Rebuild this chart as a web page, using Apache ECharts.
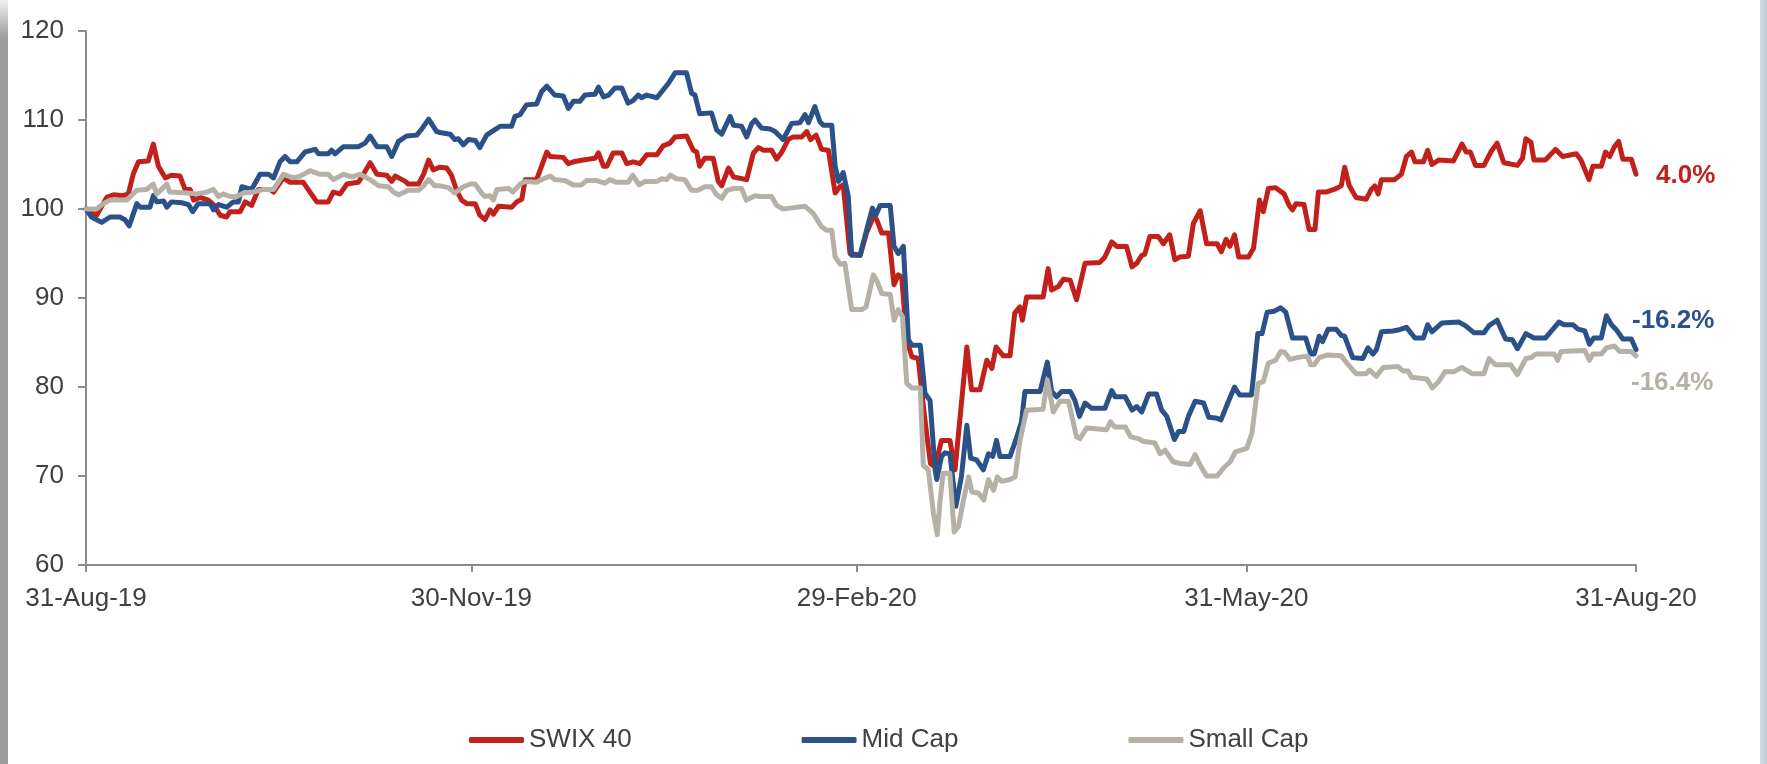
<!DOCTYPE html>
<html>
<head>
<meta charset="utf-8">
<title>SWIX 40 vs Mid Cap vs Small Cap</title>
<script src="https://cdn.jsdelivr.net/npm/echarts@6/dist/echarts.min.js"></script>
<style>
  html, body { margin: 0; padding: 0; background: #fff; }
  #chart { width: 1767px; height: 764px; }
</style>
</head>
<body>
<div id="chart"></div>
<script>
// x positions are days after 31-Aug-19, values are rebased to 100
const swixDays = [0,2.5,4.9,6.5,8.8,10,11.2,12.4,14.7,15.9,17.1,18.7,20.2,22.2,23.4,24.6,25.4,26.9,28.9,30.1,31.7,33.2,34,36.4,37.6,39.1,40.7,43.5,44.3,46.6,48.2,51.3,52.9,54.5,57.2,58.4,60,61.6,64.3,65.5,67.1,68.7,71,72.2,73,75.4,76.1,78.5,79.7,80.9,82,
  83.6,85.2,86.3,87.5,88.7,89.9,91.9,93,94.2,95.4,96.2,97.4,100.5,101.7,102.9,103.7,106.4,108.8,109.6,112.7,113.9,115.1,117.4,120.2,121,122.2,123,124.5,126.5,127.7,129.2,130.8,132.4,134.8,136.3,137.9,139.1,141.8,143.4,144.2,144.9,146.1,148.1,149.3,150.1,151.7,152.9,156,157.6,158.8,160,161.9,163.1,164.3,165.8,167,169,170.2,171.1,172.4,173.7,175.3,176.9,
  178,178.8,180.4,182.8,184.3,185.9,186.7,187.9,189.5,190.8,191.8,192.6,193.8,195,196.5,198.1,199.4,200.5,202,204,205.2,208,209.1,211.1,212.7,213.9,214.9,216.6,218.2,219.3,220.5,221.1,222.1,226,227.2,228,229.6,230.8,232.4,233.9,235.9,239.4,240.6,242.2,243.4,245.7,247,248.1,249.3,250,251.2,253.2,254.4,255.9,257.1,258.3,260.3,261.5,263.1,264.6,267.1,268.1,269.2,270.1,271.2,272.2,274.5,275.7,277.1,278,279.2,
  280.9,282.9,284.1,284.9,285.7,287.6,288.8,290.2,291,292.8,295.2,296.4,297.2,298.3,299.9,302.3,303.5,304.3,305.1,305.9,309,310.6,311.8,313,313.8,315.8,316.8,317.8,319.4,322.9,324.9,325.9,326.9,328.1,330.1,331.7,333.2,334.8,338,339.2,340,341.2,341.9,344.6,347,348.7,351.9,353,354.9,355.8,357.8,358.8,359.8,360.9,361.9,362.9,364.9,366];
const swixValues = [100,99.3,101.3,101.6,101.5,101.7,104,105.3,105.4,107.3,104.8,103.5,103.8,103.7,102.2,102.2,101,101.3,101,100.5,99.3,99.1,99.7,99.7,100.8,100.4,102.2,102.2,101.9,103.5,103,103,101.9,100.8,100.8,101.9,101.7,102.8,103,103.9,105.2,103.9,103.8,103.1,103.7,103.1,102.8,102.8,103.9,105.5,104.4,
  104.7,104.6,103.8,102.1,101,100.6,100.6,99.3,98.8,99.9,99.4,100.3,100.2,100.8,101.1,103.3,103.3,106.4,105.9,105.8,105.1,105.3,105.5,105.7,106.3,104.8,104.8,106.3,106.3,105.1,105.3,105.1,106.1,106.1,107.1,107.4,108.1,108.2,106.6,106.4,104.8,105.7,105.7,103.1,102.6,104.6,103.6,103.3,106.3,106.9,106.6,106.6,105.6,106.4,107.8,108.1,108.1,108.7,107.8,108.3,106.7,106.6,101.8,
  102.5,102.7,95,94.8,97.3,99.1,98.8,97.3,97.3,91.5,92.6,92.4,85.3,83.4,83.2,76.3,71.4,71,74,74,70.7,84.5,79.7,79.7,83,82.1,84.5,83.5,83.5,88.3,89,87.5,90.1,90.1,93.3,90.9,91.3,92.1,92,89.8,93.9,94,94.6,96.3,95.8,95.8,93.5,93.9,94.8,94.9,96.9,96.9,96.1,97.1,94.3,94.6,94.7,98.4,99.8,96.1,96.1,95.2,96.6,95.8,97.1,94.6,94.6,95.6,101,99.7,102.3,
  102.4,101.7,100.4,99.9,100.6,100.5,97.7,97.7,101.9,101.9,102.3,102.6,104.7,102.6,101.3,101.1,102.2,102.6,101.7,103.3,103.3,103.9,105.9,106.4,105.3,105.3,106.6,105,105.5,105.4,107.3,106.4,106.4,104.9,104.9,106.4,107.4,105.2,104.9,105.7,107.9,107.5,105.5,105.5,106.7,105.9,106.2,105.5,103.3,104.8,104.8,106.4,105.9,107,107.6,105.6,105.6,103.9];

const midDays = [0,1.3,3.7,5.7,8,9.2,10.2,12,12.8,15.1,15.9,16.7,18.3,19.1,20.2,22.6,24.2,25.2,26.5,29.3,30.1,31.3,33.2,34.8,36,36.8,39.1,41.1,43.1,44.3,45.8,47,48.2,49.8,51.7,54.1,54.9,57.2,58,58.8,60.8,64.3,65.9,67.1,68.7,71,72.2,73.8,75.7,78.1,79.3,80.9,82.8,
  83.6,86,87.1,87.9,89.1,90.3,91.9,93,94.6,96.2,97.8,100.5,101.3,102.5,104,106.4,107.6,108.8,110.7,112.7,113.9,115.1,116.6,117.8,120.2,121,122.2,123.4,124.9,126.5,128,129.2,130.4,131.2,132.4,134.8,137.5,139.1,141.8,143,143.8,144.9,147.7,148.9,150.1,152.1,152.9,154.8,156,157.2,158,159.5,161.5,162.7,164.6,166.6,168.6,169.8,170.6,172.1,173.3,174.1,176.1,176.9,177.7,
  178.8,180,180.8,182.8,184.3,185.7,186.5,187.5,189.9,190.8,191.8,193,194.2,195,197,198.1,199.3,200.5,200.9,202,202.8,204,205.4,206.7,208,208.9,210.3,211.9,213.1,214.1,215,215.8,218.2,219.8,220.9,221.7,225.3,227,228,229.2,230.4,232.4,233.5,234.6,235.9,237.5,240.6,242.2,243,245.4,247,248.1,249.3,250.9,252.8,254,255.2,257,258,259.2,260.3,261.9,263.9,265.1,267.1,268,269.6,271.2,272.4,275.2,
  275.6,276.7,277.7,278.9,280.5,282.1,283.3,284.9,288,289.2,290,291.2,292,293.3,295.2,296.4,297.2,299.1,301.5,302.7,303.9,304.7,305.9,308.6,309.8,311.8,313.8,315.8,316.8,317.8,320.2,324.1,325.7,327.7,330.1,331.3,333.2,335.2,336.8,338,340,341.9,344.6,346.2,347.8,349,351.1,352.3,353.9,355,356,357.8,359,360.2,361.4,362.9,364.9,366];
const midValues = [100,99.1,98.5,99.1,99.1,98.8,98.1,100.6,100.2,100.2,101.5,100.8,100.9,100.2,100.8,100.7,100.5,99.7,100.6,100.6,99.9,100.5,100.2,100.8,100.8,102.5,102.2,103.9,103.9,103.5,105.3,105.9,105.3,105.3,106.4,106.7,106.2,106.2,106.6,106.2,107,107,107.4,108.2,107,107,105.9,107.6,108.2,108.3,109,110.1,108.7,
  108.6,108.4,107.8,107.9,107.2,107.8,107.7,106.9,108.3,108.8,109.3,109.3,110.4,110.6,111.7,111.8,113.2,113.8,112.8,112.7,111.3,112.1,112.1,112.8,112.9,113.7,112.6,112.8,113.6,113.6,111.9,112.2,112.8,112.5,112.8,112.5,114.1,115.3,115.3,113,112.8,110.7,110.8,108.9,108.4,110.4,109.4,109.3,108.1,109.6,110,109.1,109,108.7,107.8,109.6,109.7,110.6,109.7,111.5,109.8,109.4,109.4,104.8,103.1,
  104.1,101.4,94.8,94.8,97.6,100.1,99.3,100.4,100.4,95.8,95,95.8,85.3,84.7,84.7,79.3,78.5,70.7,69.6,72.2,72.6,72.5,66.6,69.9,75.7,72,71.8,70.7,72.5,72.2,74,72.2,72.2,74.4,76.1,79.5,79.5,82.8,79.5,78.9,79.5,79.5,78.5,76.7,78.2,77.6,77.6,79.6,78.9,78.9,77.4,77.8,77.2,79.2,79.2,77.4,76.7,74.1,75,75,76.7,78.4,78.2,76.6,76.5,76.3,78.2,80,79.1,79.1,
  80.9,86,86,88.4,88.5,88.9,88.4,85.5,85.5,83.7,83.7,85.7,85.1,86.5,86.5,85.8,85.7,83.3,83.2,84.4,83.7,84.2,86.2,86.3,86.4,86.7,85.5,85.5,87,86.2,87.2,87.3,86.9,86.1,86.1,86.9,87.5,85.4,85.3,84.3,86,85.5,85.5,86.4,87.3,87,87,86.5,86.3,84.8,85.5,85.5,88,87,86.4,85.4,85.4,84.2];

const smallDays = [0,2.5,4.1,5.7,9.6,12,14.3,15.9,16.7,19.1,19.8,23.8,26.1,28.5,30.1,31.3,32.4,34,35.6,37.2,39.5,41.9,44.3,46.6,49,50.6,52.9,55.3,57.2,58.4,60.8,62.8,64.7,67.1,69.1,71.4,72.6,73.8,76.1,78.5,79.7,80.9,82.4,
  83.6,85.6,87.1,89.1,90.7,91.9,93.4,94.2,95.4,96.2,97,99.8,100.8,102.5,103.7,106.4,108,109.6,110.7,113.1,115.1,117,118.2,120.6,122.5,123.7,125.3,128,129.1,130.6,132,134.8,136,137.1,138,139.4,141.4,143,144.5,146.1,147.7,148.9,150.1,151.3,152.9,154.8,155.9,158,159.1,161.9,163.1,164.6,166.2,169.8,171.7,173.7,174.9,176.1,176.9,178.1,
  179.2,180.8,183.2,184.2,185.9,186.7,187.9,189.9,190.8,191.8,192.8,193.8,195,197,197.7,198.9,200.1,201,201.7,202.4,204,205,206,207.2,208.4,209.2,210.7,212,213.1,214.3,215.2,216.2,218.2,219.4,220.5,222.1,226,227,228.4,230,232,233.9,234.7,236.3,241,241.9,242.9,245.4,246.7,248.5,249.6,252.4,253.6,254.8,256.7,258.3,260.7,261.9,263.1,264.6,267.1,268.6,270.2,271.4,274.1,275.3,276.8,278,279.2,
  280.9,282.1,283,284.3,286,288.4,289.2,290,291.2,293.2,296.4,297.9,299.9,302.3,303.1,304.7,306.3,309.8,311,312.2,313,316.6,317.9,319.4,320.9,322.9,324.9,327.3,330.1,331.3,332.8,336.4,338,340,341.2,342.4,346.7,347.5,348.3,353.9,355,355.8,357.8,359,360.9,362.1,364.9,366];
const smallValues = [100,100,100.6,101,101,102.1,102.2,102.8,101.7,102.8,101.9,101.8,101.7,101.9,102.2,101.4,101.7,101.4,101.4,101.8,101.9,102.2,102.2,103.9,103.5,103.7,104.3,103.9,103.9,103.3,103.9,103.6,103.9,103.3,102.6,102.5,101.9,101.6,102.1,102.1,102.6,103.3,102.6,
  102.6,102.4,101.8,102.5,102.8,102.8,101.8,101.4,101.5,101,102.2,102.3,101.9,102.8,103.1,103,103.4,103.7,103.3,103.2,102.7,102.7,103.2,103.2,102.9,103.3,103,103,103.8,102.7,103.1,103.1,103.4,103.3,103.8,103.4,103.3,102.1,102.1,102.5,102.5,101.6,101.2,102.1,102.3,102.3,101,101.5,101.4,101.4,100.4,100,100.1,100.3,99.5,98,97.6,97.6,94.6,93.8,
  93.9,88.7,88.7,89,92.6,92,90.5,90.4,87.5,88.7,87.9,80.4,79.9,79.9,71.2,70.7,65.8,63.4,67.3,70.3,70.3,63.7,64.3,67.3,69.9,68.2,68.1,67.3,69.6,68.4,69.9,69.4,69.6,69.9,73.9,77.4,77.5,80.8,77.2,78.4,78.4,74.4,74.2,75.4,75.2,76.1,75.5,75.5,74.4,74.2,73.9,73.7,72.5,72.9,71.6,71.4,71.3,72.4,71.2,70,70,70.9,71.6,72.7,73.1,74.8,80.4,80.6,82.7,
  83,84,83.9,83.1,83.3,83.5,82.5,82.5,83.3,83.6,83.5,82.6,81.5,81.5,81.9,81.2,82.2,82.3,81.8,81.8,81.1,80.9,79.9,80.6,81.7,81.7,82.2,81.5,81.5,83.2,82.5,82.5,81.4,83.2,83.3,83.7,83.7,83,84,84.1,83,83.7,83.7,84.4,84.6,84,84,83.5];

const seriesNames = ['SWIX 40', 'Mid Cap', 'Small Cap'];
const endLabels = ['4.0%', '-16.2%', '-16.4%'];
const tickDates = ['2019-08-31', '2019-11-30', '2020-02-29', '2020-05-31', '2020-08-31'];
const tickLabels = ['31-Aug-19', '30-Nov-19', '29-Feb-20', '31-May-20', '31-Aug-20'];

const colors = ['#c1211a', '#2b5189', '#b5b1a6'];
const DAY = 86400000;
const start = Date.parse(tickDates[0]);
// tick positions as day offsets from the first date
const tickDays = tickDates.map(d => Math.round((Date.parse(d) - start) / DAY));

function toData(days, values) {
  return days.map((d, i) => [d, values[i]]);
}

const chart = echarts.init(document.getElementById('chart'));

const lineSeries = [
  { days: swixDays, values: swixValues, offset: [20, 2] },
  { days: midDays, values: midValues, offset: [-4, -29] },
  { days: smallDays, values: smallValues, offset: [-5, 27] }
].map((s, i) => ({
  name: seriesNames[i],
  type: 'line',
  data: toData(s.days, s.values),
  showSymbol: false,
  symbol: 'none',
  lineStyle: { color: colors[i], width: 5, join: 'round', cap: 'round' },
  itemStyle: { color: colors[i] },
  endLabel: {
    show: true,
    formatter: endLabels[i],
    color: colors[i],
    fontWeight: 'bold',
    fontSize: 26,
    distance: 0,
    offset: s.offset
  }
}));

chart.setOption({
  animation: false,
  backgroundColor: '#ffffff',
  textStyle: { fontFamily: '"Liberation Sans", Arial, sans-serif' },
  grid: { left: 86, right: 131, top: 31, bottom: 199 },
  legend: {
    data: seriesNames,
    left: 464,
    top: 722,
    icon: 'roundRect',
    itemWidth: 55,
    itemHeight: 6,
    itemGap: 170,
    textStyle: { fontSize: 26, color: '#404040' }
  },
  xAxis: {
    type: 'value',
    min: tickDays[0],
    max: tickDays[tickDays.length - 1],
    splitLine: { show: false },
    axisLine: { show: true, lineStyle: { color: '#8c8c8c', width: 2 } },
    axisTick: { show: true, customValues: tickDays, length: 7, lineStyle: { color: '#8c8c8c', width: 2 } },
    axisLabel: {
      customValues: tickDays,
      fontSize: 26,
      color: '#404040',
      margin: 21,
      showMinLabel: true,
      showMaxLabel: true,
      hideOverlap: false,
      formatter: function (value) {
        const i = tickDays.indexOf(Math.round(value));
        return i >= 0 ? tickLabels[i] : '';
      }
    }
  },
  yAxis: {
    type: 'value',
    min: 60,
    max: 120,
    interval: 10,
    splitLine: { show: false },
    axisLine: { show: true, lineStyle: { color: '#8c8c8c', width: 2 } },
    axisTick: { show: true, length: 8, lineStyle: { color: '#8c8c8c', width: 2 } },
    axisLabel: { fontSize: 26, color: '#404040', margin: 22 }
  },
  graphic: [
    {
      type: 'rect',
      shape: { x: 0, y: 0, width: 8, height: 764 },
      style: {
        fill: {
          type: 'linear', x: 0, y: 0, x2: 0, y2: 1,
          colorStops: [
            { offset: 0, color: '#efefef' },
            { offset: 0.05, color: '#9c9c9c' },
            { offset: 1, color: '#9c9c9c' }
          ]
        }
      },
      silent: true
    },
    {
      type: 'rect',
      shape: { x: 1760, y: 0, width: 7, height: 764 },
      style: {
        fill: {
          type: 'linear', x: 0, y: 0, x2: 1, y2: 0,
          colorStops: [
            { offset: 0, color: '#d6dee4' },
            { offset: 1, color: '#bfcbd3' }
          ]
        }
      },
      silent: true
    }
  ],
  series: lineSeries
});

window.addEventListener('resize', () => chart.resize());
</script>
</body>
</html>
